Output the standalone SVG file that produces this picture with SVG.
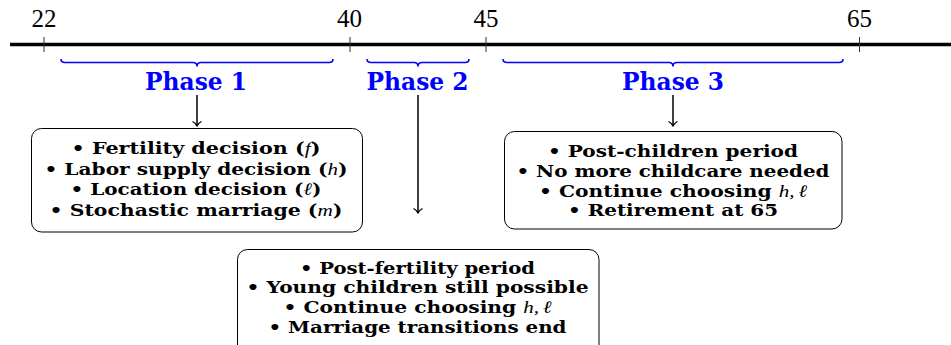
<svg xmlns="http://www.w3.org/2000/svg" width="951" height="345" viewBox="0 0 951 345">
<style>
.num{font-family:"Liberation Serif","Times New Roman",serif;font-size:25px;fill:#000;text-anchor:middle}
.ph{font-family:"DejaVu Serif","Liberation Serif",serif;font-weight:bold;font-size:24.5px;fill:#0000ff;text-anchor:middle}
.bx{font-family:"DejaVu Serif","Liberation Serif",serif;font-weight:bold;font-size:16.8px;fill:#000;text-anchor:middle}
.it{font-family:"Liberation Serif","Times New Roman",serif;font-weight:normal;font-style:italic;font-size:17.5px}
.box{fill:#fff;stroke:#000;stroke-width:1}
.brace{fill:none;stroke:#0000ff;stroke-width:1.6}
.tick{stroke:#333;stroke-width:1}
.arr{stroke:#000;stroke-width:1.5;fill:none;marker-end:url(#to)}
</style>
<defs>
<marker id="to" viewBox="-6 -6 12 12" markerWidth="12" markerHeight="12" refX="0" refY="0" orient="auto" markerUnits="userSpaceOnUse">
<path d="M-4.5,-4.5 C-3,-1.5 -0.6,-0.4 0,0 C-0.6,0.4 -3,1.5 -4.5,4.5" fill="none" stroke="#000" stroke-width="1.3"/>
</marker>
</defs>
<g id="axis">
<line x1="10" y1="44.5" x2="951" y2="44.5" stroke="#000" stroke-width="3.5"/>
<line class="tick" x1="44" y1="37" x2="44" y2="52"/>
<line class="tick" x1="350" y1="37" x2="350" y2="52"/>
<line class="tick" x1="486" y1="37" x2="486" y2="52"/>
<line class="tick" x1="859.5" y1="37" x2="859.5" y2="52"/>
<text class="num" x="44" y="26.5">22</text>
<text class="num" x="349.5" y="26.5">40</text>
<text class="num" x="486" y="26.5">45</text>
<text class="num" x="859.5" y="26.5">65</text>
</g>
<g id="phase1">
<path class="brace" d="M61,59 Q61,62.5 65,62.5 L193,62.5 Q197,62.5 197,66.5 Q197,62.5 201,62.5 L329,62.5 Q333,62.5 333,59"/>
<text class="ph" x="196" y="90" textLength="102" lengthAdjust="spacingAndGlyphs">Phase 1</text>
</g>
<g id="phase2">
<path class="brace" d="M367,59 Q367,62.5 371,62.5 L414,62.5 Q418,62.5 418,66.5 Q418,62.5 422,62.5 L465,62.5 Q469,62.5 469,59"/>
<text class="ph" x="417.5" y="90" textLength="102" lengthAdjust="spacingAndGlyphs">Phase 2</text>
</g>
<g id="phase3">
<path class="brace" d="M503,59 Q503,62.5 507,62.5 L669,62.5 Q673,62.5 673,66.5 Q673,62.5 677,62.5 L839,62.5 Q843,62.5 843,59"/>
<text class="ph" x="673" y="90" textLength="102" lengthAdjust="spacingAndGlyphs">Phase 3</text>
</g>
<g id="connectors">
<line class="arr" x1="197" y1="95" x2="197" y2="126"/>
<line class="arr" x1="418" y1="95" x2="418" y2="213"/>
<line class="arr" x1="673" y1="95" x2="673" y2="126"/>
</g>
<g id="box1">
<rect class="box" x="31.5" y="128.5" width="331" height="103.5" rx="10"/>
<text class="bx" x="196" y="154" textLength="249" lengthAdjust="spacingAndGlyphs">• Fertility decision (<tspan class="it">f</tspan>)</text>
<text class="bx" x="196" y="174.5" textLength="303" lengthAdjust="spacingAndGlyphs">• Labor supply decision (<tspan class="it">h</tspan>)</text>
<text class="bx" x="196" y="195" textLength="251" lengthAdjust="spacingAndGlyphs">• Location decision (<tspan class="it">ℓ</tspan>)</text>
<text class="bx" x="196" y="215.5" textLength="293" lengthAdjust="spacingAndGlyphs">• Stochastic marriage (<tspan class="it">m</tspan>)</text>
</g>
<g id="box3">
<rect class="box" x="504.5" y="131.5" width="337.5" height="97.5" rx="10"/>
<text class="bx" x="673" y="157" textLength="250" lengthAdjust="spacingAndGlyphs">• Post-children period</text>
<text class="bx" x="673" y="176.8" textLength="313" lengthAdjust="spacingAndGlyphs">• No more childcare needed</text>
<text class="bx" x="673" y="196.6" textLength="268" lengthAdjust="spacingAndGlyphs">• Continue choosing <tspan class="it">h</tspan><tspan class="it" font-style="normal">,</tspan><tspan class="it" dx="3">ℓ</tspan></text>
<text class="bx" x="673" y="216.4" textLength="210" lengthAdjust="spacingAndGlyphs">• Retirement at 65</text>
</g>
<g id="box2">
<rect class="box" x="237.5" y="249.5" width="361.5" height="110" rx="10"/>
<text class="bx" x="417.5" y="273.5" textLength="235" lengthAdjust="spacingAndGlyphs">• Post-fertility period</text>
<text class="bx" x="417.5" y="293.3" textLength="342" lengthAdjust="spacingAndGlyphs">• Young children still possible</text>
<text class="bx" x="417.5" y="313.1" textLength="268" lengthAdjust="spacingAndGlyphs">• Continue choosing <tspan class="it">h</tspan><tspan class="it" font-style="normal">,</tspan><tspan class="it" dx="3">ℓ</tspan></text>
<text class="bx" x="417.5" y="332.9" textLength="298" lengthAdjust="spacingAndGlyphs">• Marriage transitions end</text>
</g>
</svg>
